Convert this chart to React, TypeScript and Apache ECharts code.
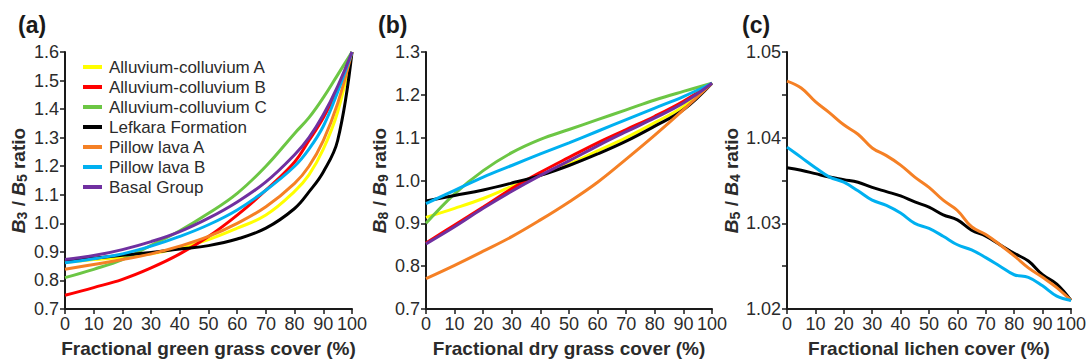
import React, { useEffect, useRef } from "react";
import * as echarts from "echarts";

const FONT = "Liberation Sans, Arial, Helvetica, sans-serif";

const seriesNames = [
  "Alluvium-colluvium A",
  "Alluvium-colluvium B",
  "Alluvium-colluvium C",
  "Lefkara Formation",
  "Pillow lava A",
  "Pillow lava B",
  "Basal Group",
];
const seriesColors = ["#ffff00", "#ff0000", "#6cc644", "#000000", "#f58025", "#00b0f0", "#7030a0"];

// Panel (a): fractional green grass cover
const xA = [0, 10, 20, 30, 40, 50, 60, 70, 80, 85, 90, 95, 100];
const aAlluviumA = [0.864, 0.873, 0.881, 0.893, 0.914, 0.943, 0.983, 1.029, 1.112, 1.17, 1.26, 1.39, 1.6];
const aAlluviumB = [0.748, 0.775, 0.804, 0.844, 0.893, 0.954, 1.029, 1.116, 1.215, 1.29, 1.37, 1.47, 1.6];
const aAlluviumC = [0.81, 0.839, 0.873, 0.923, 0.974, 1.035, 1.105, 1.2, 1.315, 1.37, 1.44, 1.52, 1.6];
const aLefkara = [0.868, 0.878, 0.888, 0.898, 0.91, 0.922, 0.945, 0.983, 1.052, 1.11, 1.18, 1.29, 1.6];
const aPillowA = [0.839, 0.856, 0.873, 0.893, 0.92, 0.954, 1.0, 1.058, 1.14, 1.2, 1.29, 1.42, 1.6];
const aPillowB = [0.862, 0.876, 0.893, 0.92, 0.954, 0.995, 1.047, 1.116, 1.2, 1.26, 1.34, 1.46, 1.6];
const aBasal = [0.873, 0.887, 0.908, 0.936, 0.971, 1.018, 1.075, 1.145, 1.24, 1.3, 1.38, 1.48, 1.6];

// Panel (b): fractional dry grass cover
const xB = [0, 10, 20, 30, 40, 50, 60, 70, 80, 90, 100];
const bAlluviumA = [0.914, 0.935, 0.958, 0.986, 1.012, 1.038, 1.069, 1.1, 1.135, 1.173, 1.227];
const bAlluviumB = [0.854, 0.896, 0.938, 0.981, 1.019, 1.054, 1.088, 1.119, 1.15, 1.185, 1.227];
const bAlluviumC = [0.9, 0.969, 1.023, 1.065, 1.096, 1.119, 1.142, 1.165, 1.188, 1.208, 1.227];
const bLefkara = [0.952, 0.965, 0.978, 0.994, 1.012, 1.035, 1.062, 1.092, 1.127, 1.165, 1.227];
const bPillowA = [0.771, 0.802, 0.835, 0.869, 0.908, 0.95, 0.996, 1.05, 1.106, 1.165, 1.227];
const bPillowB = [0.946, 0.977, 1.008, 1.035, 1.062, 1.088, 1.115, 1.142, 1.169, 1.196, 1.227];
const bBasal = [0.852, 0.892, 0.935, 0.975, 1.012, 1.046, 1.081, 1.114, 1.146, 1.181, 1.227];

// Panel (c): fractional lichen cover
const xC = [0, 5, 10, 15, 20, 25, 30, 35, 40, 45, 50, 55, 60, 65, 70, 75, 80, 85, 90, 95, 100];
const cPillowA = [1.0466, 1.0458, 1.0442, 1.0429, 1.0415, 1.0404, 1.0388, 1.0379, 1.0368, 1.0354, 1.0342, 1.0327, 1.0315, 1.0296, 1.0287, 1.0275, 1.0262, 1.0248, 1.0237, 1.0225, 1.021];
const cLefkara = [1.0365, 1.0362, 1.0358, 1.0354, 1.0351, 1.0348, 1.0342, 1.0337, 1.0332, 1.0325, 1.0319, 1.031, 1.0304, 1.0292, 1.0285, 1.0275, 1.0265, 1.0256, 1.024, 1.0229, 1.021];
const cPillowB = [1.0389, 1.0377, 1.0365, 1.0354, 1.0348, 1.0338, 1.0327, 1.0321, 1.0312, 1.03, 1.0294, 1.0285, 1.0275, 1.0269, 1.026, 1.025, 1.024, 1.0237, 1.0227, 1.0215, 1.021];

const xTickLabels = ["0", "10", "20", "30", "40", "50", "60", "70", "80", "90", "100"];
const panelLetters = ["(a)", "(b)", "(c)"];
const xTitles = [
  "Fractional green grass cover (%)",
  "Fractional dry grass cover (%)",
  "Fractional lichen cover (%)",
];
const yBands = [
  ["3", "5"],
  ["8", "9"],
  ["5", "4"],
];

const pairs = (xs: number[], ys: number[]) => xs.map((x, i) => [x, ys[i]]);

const grids = [
  { left: 65, top: 52, width: 287, height: 260 },
  { left: 426, top: 52, width: 286, height: 260 },
  { left: 787, top: 52, width: 286, height: 260 },
];

const axisColor = "#1a1a1a";
const labelColor = "#2b2b2b";

function App() {
  const ref = useRef<HTMLDivElement>(null);
  useEffect(() => {
    if (!ref.current) return;
    const chart = echarts.init(ref.current, undefined, { renderer: "svg" });

    const xAxes = grids.map((_, i) => ({
      type: "value",
      gridIndex: i,
      min: 0,
      max: 100,
      interval: 10,
      name: xTitles[i],
      nameLocation: "middle",
      nameGap: 30,
      nameTextStyle: { fontFamily: FONT, fontSize: 19, fontWeight: "bold", color: labelColor },
      axisLine: { show: true, lineStyle: { color: axisColor, width: 2 } },
      axisTick: { show: true, length: 5, lineStyle: { color: axisColor, width: 1.5 } },
      axisLabel: {
        margin: 6,
        fontFamily: FONT,
        fontSize: 18,
        color: labelColor,
        formatter: (v: number) => xTickLabels[Math.round(v / 10)] ?? "",
      },
      splitLine: { show: false },
    }));

    const yRanges = [
      { min: 0.7, max: 1.6, interval: 0.1, dec: 1, step: 1 },
      { min: 0.7, max: 1.3, interval: 0.1, dec: 1, step: 1 },
      { min: 1.02, max: 1.05, interval: 0.005, dec: 2, step: 2 },
    ];

    const yAxes = grids.map((_, i) => {
      const r = yRanges[i];
      const [s1, s2] = yBands[i];
      return {
        type: "value",
        gridIndex: i,
        min: r.min,
        max: r.max,
        interval: r.interval,
        name: `{b|B}{s|${s1}}{n| / }{b|B}{s|${s2}}{n| ratio}`,
        nameLocation: "middle",
        nameRotate: 90,
        nameGap: 36,
        nameTextStyle: {
          fontFamily: FONT,
          fontSize: 19,
          fontWeight: "bold",
          color: labelColor,
          rich: {
            b: { fontFamily: FONT, fontSize: 19, fontWeight: "bold", fontStyle: "italic", color: labelColor, lineHeight: 22 },
            n: { fontFamily: FONT, fontSize: 19, fontWeight: "bold", color: labelColor, lineHeight: 22 },
            s: { fontFamily: FONT, fontSize: 14, fontWeight: "bold", color: labelColor, lineHeight: 14, verticalAlign: "bottom" },
          },
        },
        axisLine: { show: true, onZero: false, lineStyle: { color: axisColor, width: 2 } },
        axisTick: { show: true, length: 5, lineStyle: { color: axisColor, width: 1.5 } },
        axisLabel: {
          margin: 6,
          fontFamily: FONT,
          fontSize: 18,
          color: labelColor,
          formatter: (v: number) => {
            const k = Math.round((v - r.min) / r.interval);
            if (k % r.step !== 0) return "";
            return v.toFixed(r.dec);
          },
        },
        splitLine: { show: false },
      };
    });

    const mk = (name: string, color: string, idx: number, data: number[][]) => ({
      name,
      type: "line",
      xAxisIndex: idx,
      yAxisIndex: idx,
      data,
      smooth: 0.4,
      showSymbol: false,
      symbol: "none",
      lineStyle: { color, width: 3 },
      itemStyle: { color },
      emphasis: { disabled: true },
    });

    const aSeries = [aAlluviumA, aAlluviumB, aAlluviumC, aLefkara, aPillowA, aPillowB, aBasal];
    const bSeries = [bAlluviumA, bAlluviumB, bAlluviumC, bLefkara, bPillowA, bPillowB, bBasal];

    const series: any[] = [];
    aSeries.forEach((ys, i) => series.push(mk(seriesNames[i], seriesColors[i], 0, pairs(xA, ys))));
    bSeries.forEach((ys, i) => series.push(mk(seriesNames[i], seriesColors[i], 1, pairs(xB, ys))));
    series.push(mk(seriesNames[3], seriesColors[3], 2, pairs(xC, cLefkara)));
    series.push(mk(seriesNames[4], seriesColors[4], 2, pairs(xC, cPillowA)));
    series.push(mk(seriesNames[5], seriesColors[5], 2, pairs(xC, cPillowB)));

    chart.setOption({
      animation: false,
      backgroundColor: "#ffffff",
      grid: grids.map((g) => ({ ...g, containLabel: false })),
      xAxis: xAxes,
      yAxis: yAxes,
      legend: {
        show: true,
        data: seriesNames,
        orient: "vertical",
        left: 78,
        top: 52,
        icon: "rect",
        itemWidth: 19,
        itemHeight: 4,
        itemGap: 0,
        selectedMode: false,
        textStyle: { fontFamily: FONT, fontSize: 17, color: labelColor, lineHeight: 20, padding: [0, 0, 0, 2] },
      },
      graphic: panelLetters.map((t, i) => ({
        type: "text",
        left: [18, 378, 742][i],
        top: 13,
        style: { text: t, font: `bold 23px ${FONT}`, fill: "#1a1a1a" },
      })),
      series,
    });
    return () => chart.dispose();
  }, []);

  return (
    <div
      ref={ref}
      style={{ position: "fixed", left: 0, top: 0, width: 1089, height: 363 }}
    />
  );
}

export default App;
